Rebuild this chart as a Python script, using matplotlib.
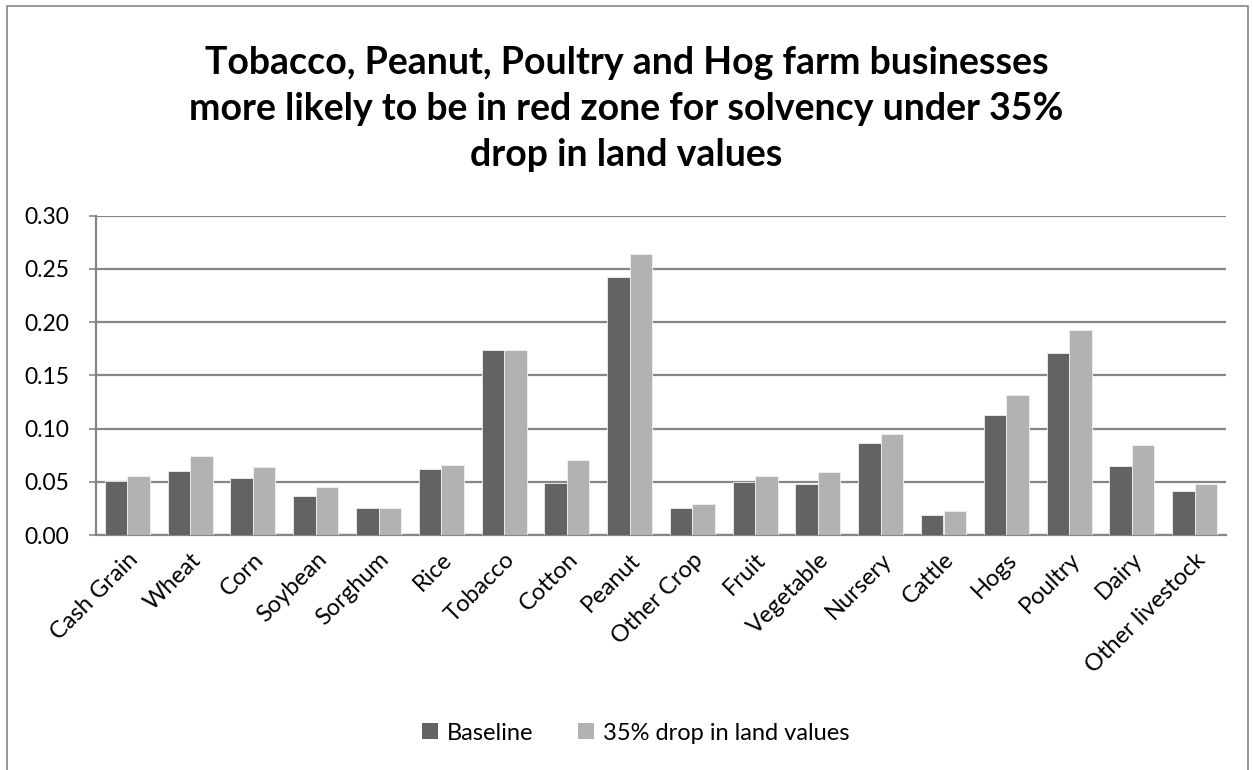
import matplotlib
matplotlib.use("Agg")
import matplotlib.pyplot as plt
import numpy as np
from matplotlib.patches import Rectangle, Patch

categories = ["Cash Grain", "Wheat", "Corn", "Soybean", "Sorghum", "Rice", "Tobacco",
              "Cotton", "Peanut", "Other Crop", "Fruit", "Vegetable", "Nursery",
              "Cattle", "Hogs", "Poultry", "Dairy", "Other livestock"]
baseline = [0.051, 0.060, 0.054, 0.037, 0.025, 0.062, 0.174, 0.049, 0.242, 0.025,
            0.050, 0.048, 0.086, 0.019, 0.113, 0.171, 0.065, 0.041]
drop35 = [0.055, 0.074, 0.064, 0.045, 0.025, 0.066, 0.174, 0.070, 0.264, 0.029,
          0.055, 0.059, 0.095, 0.023, 0.132, 0.193, 0.085, 0.048]
series_names = ["Baseline", "35% drop in land values"]
yticks = [0.00, 0.05, 0.10, 0.15, 0.20, 0.25, 0.30]
title = ("Tobacco, Peanut, Poultry and Hog farm businesses\n"
         "more likely to be in red zone for solvency under 35%\n"
         "drop in land values")

plt.rcParams['font.family'] = ['Lato', 'DejaVu Sans']

W, H = 1253, 770
fig = plt.figure(figsize=(W / 100, H / 100), dpi=100)
fig.patch.set_facecolor("white")

# outer chart border
fig.patches.append(Rectangle((7 / W, -0.05), (1248 - 7) / W, 1.05 - 6 / H,
                             transform=fig.transFigure, fill=False,
                             edgecolor="#868686", linewidth=1.2))

ax = fig.add_axes([96 / W, 1 - 535 / H, (1226 - 96) / W, (535 - 215.7) / H])

x = np.arange(len(categories))
bw = 0.358
c1, c2 = "#636363", "#b2b2b2"
ax.bar(x - bw / 2, baseline, bw, color=c1, edgecolor="#f0f0f0", linewidth=0.6,
       label=series_names[0], zorder=3)
ax.bar(x + bw / 2, drop35, bw, color=c2, edgecolor="#f0f0f0", linewidth=0.6,
       label=series_names[1], zorder=3)

ax.set_xlim(-0.5, len(categories) - 0.5)
ax.set_ylim(0, 0.30)
ax.set_yticks(yticks)
ax.set_yticklabels([f"{v:.2f}" for v in yticks], fontsize=16.5)
ax.yaxis.grid(True, color="#868686", linewidth=1.6, zorder=0)
ax.set_axisbelow(True)
ax.tick_params(axis="y", length=5, width=1.2, color="#868686", pad=14)
ax.set_xticks(x)
ax.set_xticklabels(categories, rotation=45, ha="right", rotation_mode="anchor",
                   fontsize=17)
ax.tick_params(axis="x", length=0, pad=10)
for s in ["top", "right"]:
    ax.spines[s].set_visible(False)
for s in ["left", "bottom"]:
    ax.spines[s].set_color("#868686")
    ax.spines[s].set_linewidth(1.6)

fig.text(0.5, 1 - 109 / H, title, ha="center", va="center", fontsize=27,
         fontweight="bold", linespacing=1.42)

handles = [Patch(facecolor=c1, label=series_names[0]),
           Patch(facecolor=c2, label=series_names[1])]
fig.legend(handles=handles, loc="center", bbox_to_anchor=(636 / W, 1 - 733 / H),
           ncol=2, frameon=False, fontsize=17, handlelength=0.65, handleheight=0.65,
           handletextpad=0.4, columnspacing=1.9)

fig.savefig("out.png", dpi=100, facecolor="white")
